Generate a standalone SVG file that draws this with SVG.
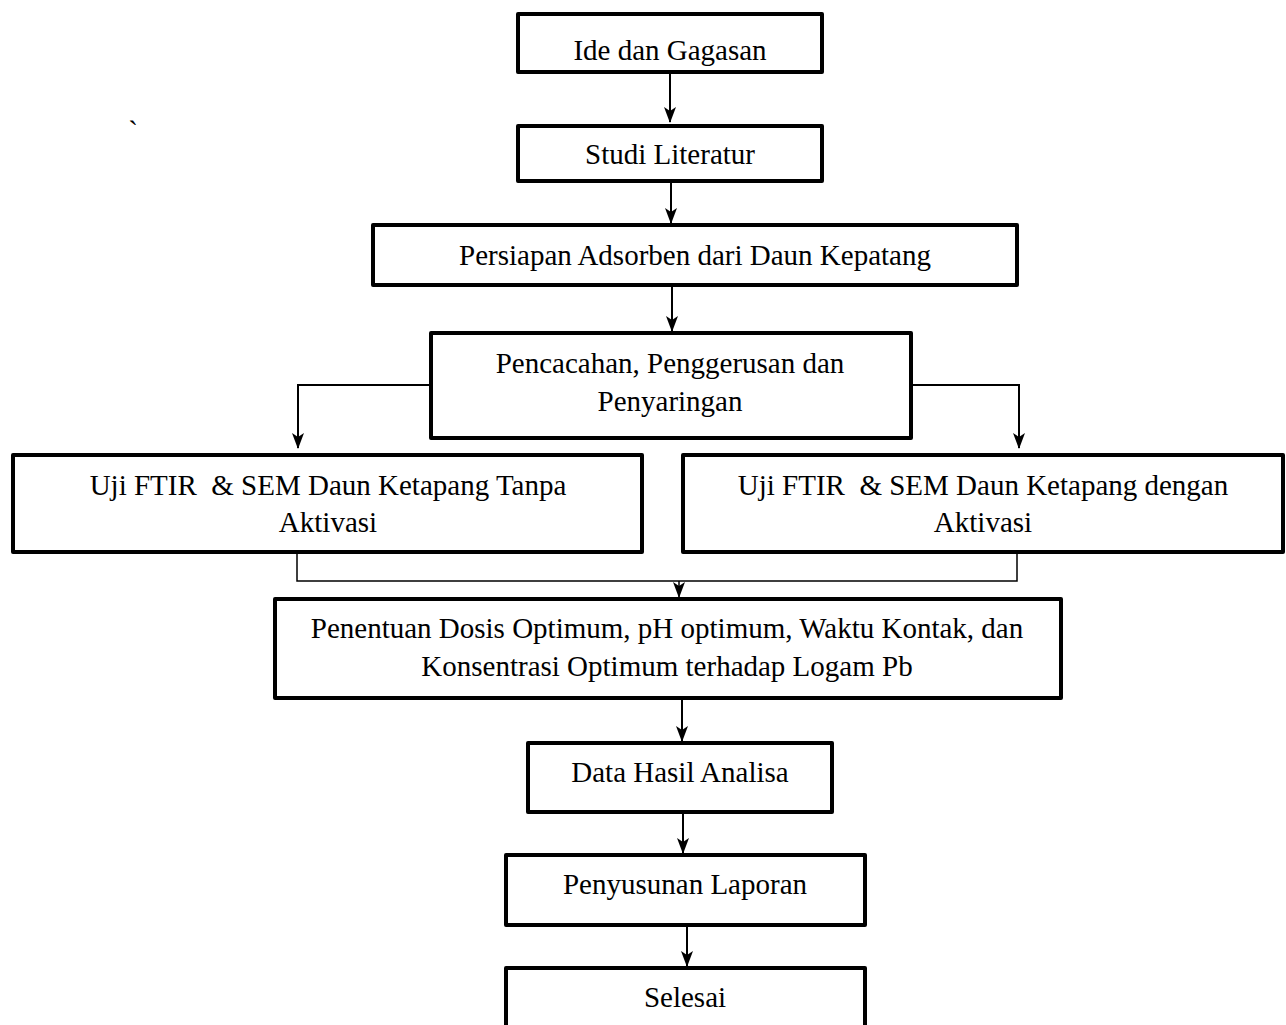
<svg xmlns="http://www.w3.org/2000/svg" width="1286" height="1025" viewBox="0 0 1286 1025">
<style>
.box{fill:#fff;stroke:#000;stroke-width:4;stroke-linejoin:round}
.t{font-family:"Liberation Serif","Times New Roman",serif;font-size:29px;fill:#000;text-anchor:middle;white-space:pre}
.c{fill:none;stroke:#000;stroke-width:2}
.m{fill:none;stroke:#000;stroke-width:1.5}
</style>
<defs>
<marker id="ah" markerUnits="userSpaceOnUse" markerWidth="16" markerHeight="14" viewBox="0 0 16 14" refX="15" refY="7" orient="auto">
<path d="M0,1 L16,7 L0,13 L4,7 z" fill="#000"/>
</marker>
</defs>
<rect width="1286" height="1025" fill="#fff"/>
<text class="t" x="133" y="141">`</text>
<g id="connectors">
<line class="c" x1="670" y1="74" x2="670" y2="122" marker-end="url(#ah)"/>
<line class="c" x1="671" y1="183" x2="671" y2="223" marker-end="url(#ah)"/>
<line class="c" x1="672" y1="287" x2="672" y2="331" marker-end="url(#ah)"/>
<polyline class="c" points="430,385 298,385 298,448" marker-end="url(#ah)"/>
<polyline class="c" points="912,385 1019,385 1019,448" marker-end="url(#ah)"/>
<polyline class="m" points="297,554 297,581 1017,581 1017,554"/>
<line class="m" x1="679" y1="581" x2="679" y2="597" marker-end="url(#ah)"/>
<line class="c" x1="682" y1="699" x2="682" y2="741" marker-end="url(#ah)"/>
<line class="c" x1="683" y1="813" x2="683" y2="853" marker-end="url(#ah)"/>
<line class="c" x1="687" y1="927" x2="687" y2="966" marker-end="url(#ah)"/>
</g>
<g id="n1"><rect class="box" x="518" y="14" width="304" height="58"/><text class="t" x="670" y="60">Ide dan Gagasan</text></g>
<g id="n2"><rect class="box" x="518" y="126" width="304" height="55"/><text class="t" x="670" y="164">Studi Literatur</text></g>
<g id="n3"><rect class="box" x="373" y="225" width="644" height="60"/><text class="t" x="695" y="265">Persiapan Adsorben dari Daun Kepatang</text></g>
<g id="n4"><rect class="box" x="431" y="333" width="480" height="105"/><text class="t" x="670" y="373">Pencacahan, Penggerusan dan</text><text class="t" x="670" y="411">Penyaringan</text></g>
<g id="n5"><rect class="box" x="13" y="455" width="629" height="97"/><text class="t" x="328" y="495">Uji FTIR  &amp; SEM Daun Ketapang Tanpa</text><text class="t" x="328" y="532">Aktivasi</text></g>
<g id="n6"><rect class="box" x="683" y="455" width="600" height="97"/><text class="t" x="983" y="495">Uji FTIR  &amp; SEM Daun Ketapang dengan</text><text class="t" x="983" y="532">Aktivasi</text></g>
<g id="n7"><rect class="box" x="275" y="599" width="786" height="99"/><text class="t" x="667" y="638">Penentuan Dosis Optimum, pH optimum, Waktu Kontak, dan</text><text class="t" x="667" y="676">Konsentrasi Optimum terhadap Logam Pb</text></g>
<g id="n8"><rect class="box" x="528" y="743" width="304" height="69"/><text class="t" x="680" y="782">Data Hasil Analisa</text></g>
<g id="n9"><rect class="box" x="506" y="855" width="359" height="70"/><text class="t" x="685" y="894">Penyusunan Laporan</text></g>
<g id="n10"><rect class="box" x="506" y="968" width="359" height="80"/><text class="t" x="685" y="1007">Selesai</text></g>
</svg>
